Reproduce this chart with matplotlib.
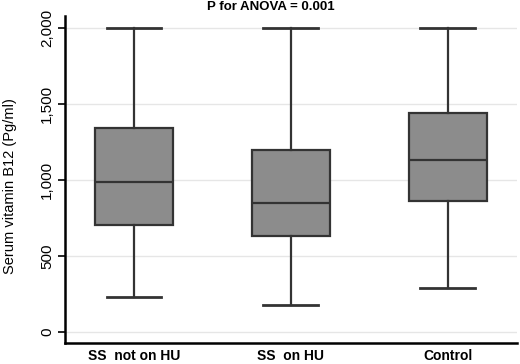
import matplotlib
matplotlib.use("Agg")
import matplotlib.pyplot as plt

plt.rcParams['font.family'] = ['Liberation Sans', 'DejaVu Sans']

# Box plot summary values (Pg/ml)
groups = ['SS  not on HU', 'SS  on HU', 'Control']
whisker_low = [230, 175, 285]
q1 = [700, 630, 860]
median = [990, 850, 1130]
q3 = [1340, 1195, 1445]
whisker_high = [2000, 2000, 2000]

yticks = [0, 500, 1000, 1500, 2000]
ytick_labels = ['0', '500', '1,000', '1,500', '2,000']

stats = []
for i, g in enumerate(groups):
    stats.append({'label': g, 'whislo': whisker_low[i], 'q1': q1[i],
                  'med': median[i], 'q3': q3[i], 'whishi': whisker_high[i],
                  'fliers': []})

fig = plt.figure(figsize=(5.2, 3.64), dpi=100)
ax = fig.add_axes([0.125, 0.0577, 0.869, 0.898])

edge = '#333333'
ax.bxp(stats, positions=[1, 2, 3], widths=0.5, patch_artist=True,
       showfliers=False,
       boxprops=dict(facecolor='#8c8c8c', edgecolor=edge, linewidth=1.6),
       medianprops=dict(color=edge, linewidth=1.6),
       whiskerprops=dict(color=edge, linewidth=1.6),
       capprops=dict(color=edge, linewidth=2.0),
       capwidths=0.35)

ax.set_xlim(0.56, 3.44)
ax.set_ylim(-75, 2081)
ax.set_yticks(yticks)
ax.set_yticklabels(ytick_labels, rotation=90, va='center', fontsize=11)
ax.yaxis.grid(True, color='#e6e6e6', linewidth=1)
ax.set_axisbelow(True)

ax.set_xticks([1, 2, 3])
ax.set_xticklabels(groups, fontsize=10, fontweight='bold')
ax.tick_params(axis='x', length=0, pad=4)
ax.tick_params(axis='y', length=5, width=1.2, pad=3)

for s in ['top', 'right']:
    ax.spines[s].set_visible(False)
for s in ['left', 'bottom']:
    ax.spines[s].set_linewidth(1.8)

ax.set_ylabel('Serum vitamin B12 (Pg/ml)', fontsize=10.5)
ax.yaxis.set_label_coords(-0.107, 0.48)

fig.text(0.52, 0.981, 'P for ANOVA = 0.001', ha='center', va='center',
         fontsize=9.5, fontweight='bold')

fig.savefig('out.png', dpi=100)
